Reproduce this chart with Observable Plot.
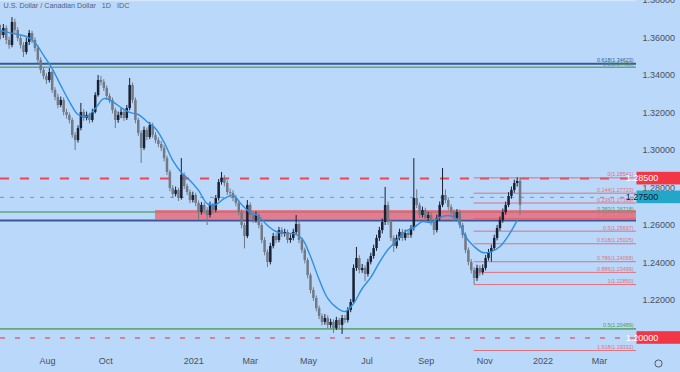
<!DOCTYPE html>
<html><head><meta charset="utf-8">
<script src="https://cdn.jsdelivr.net/npm/d3@7"></script>
<script src="https://cdn.jsdelivr.net/npm/@observablehq/plot@0.6"></script>
<style>html,body{margin:0;padding:0;background:#bad8fa;}</style>
</head><body><div id="chart"></div>
<script>
const title = "U.S. Dollar / Canadian Dollar\u00a0\u00a0\u00a01D\u00a0\u00a0\u00a0IDC";
const firstDate = "2020-06-13";
const stepDays = 3;
const firstOpen = 1.3640;
const closes = [
1.3613,1.3651,1.3587,1.3560,1.3683,1.3640,1.3597,1.3560,1.3523,1.3576,
1.3624,1.3587,1.3544,1.3480,1.3427,1.3395,1.3373,1.3416,1.3320,1.3283,
1.3240,1.3267,1.3203,1.3187,1.3160,1.3080,1.3053,1.3117,1.3203,1.3171,
1.3187,1.3160,1.3203,1.3293,1.3373,1.3363,1.3331,1.3288,1.3267,1.3213,
1.3160,1.3187,1.3203,1.3171,1.3224,1.3347,1.3267,1.3160,1.3091,1.3011,
1.3107,1.3069,1.3133,1.3080,1.3053,1.3032,1.3011,1.2957,1.2883,1.2797,
1.2765,1.2787,1.2744,1.2867,1.2808,1.2776,1.2733,1.2760,1.2717,1.2669,
1.2707,1.2680,1.2653,1.2707,1.2680,1.2744,1.2829,1.2851,1.2824,1.2776,
1.2771,1.2744,1.2717,1.2669,1.2600,1.2541,1.2707,1.2653,1.2627,1.2653,
1.2600,1.2520,1.2456,1.2403,1.2488,1.2541,1.2520,1.2573,1.2552,1.2563,
1.2520,1.2531,1.2563,1.2605,1.2520,1.2467,1.2413,1.2333,1.2253,1.2211,
1.2157,1.2115,1.2083,1.2104,1.2067,1.2083,1.2051,1.2093,1.2067,1.2104,
1.2093,1.2147,1.2189,1.2371,1.2424,1.2360,1.2371,1.2339,1.2403,1.2435,
1.2477,1.2531,1.2573,1.2616,1.2707,1.2616,1.2531,1.2488,1.2531,1.2563,
1.2531,1.2557,1.2547,1.2584,1.2744,1.2707,1.2653,1.2680,1.2637,1.2653,
1.2616,1.2573,1.2637,1.2707,1.2760,1.2733,1.2696,1.2669,1.2637,1.2669,
1.2600,1.2547,1.2467,1.2403,1.2360,1.2317,1.2371,1.2349,1.2371,1.2424,
1.2456,1.2477,1.2531,1.2584,1.2627,1.2669,1.2707,1.2755,1.2787,1.2824,
1.2835,1.2707];
const highs = [
1.3668,1.3672,1.3665,1.3605,1.3709,1.3700,1.3655,1.3612,1.3575,1.3598,
1.3640,1.3635,1.3600,1.3558,1.3495,1.3440,1.3410,1.3437,1.3425,1.3335,
1.3300,1.3285,1.3280,1.3220,1.3200,1.3172,1.3095,1.3132,1.3251,1.3218,
1.3205,1.3198,1.3220,1.3308,1.3400,1.3395,1.3378,1.3345,1.3302,1.3280,
1.3225,1.3205,1.3222,1.3215,1.3240,1.3384,1.3360,1.3280,1.3172,1.3105,
1.3125,1.3120,1.3150,1.3145,1.3095,1.3068,1.3048,1.3025,1.2970,1.2895,
1.2812,1.2805,1.2798,1.2957,1.2880,1.2820,1.2790,1.2778,1.2772,1.2730,
1.2722,1.2720,1.2695,1.2725,1.2718,1.2760,1.2845,1.2883,1.2866,1.2838,
1.2795,1.2785,1.2760,1.2730,1.2683,1.2612,1.2733,1.2720,1.2668,1.2672,
1.2665,1.2612,1.2535,1.2470,1.2505,1.2558,1.2556,1.2590,1.2588,1.2580,
1.2575,1.2550,1.2580,1.2653,1.2618,1.2532,1.2480,1.2425,1.2345,1.2268,
1.2225,1.2170,1.2128,1.2125,1.2118,1.2100,1.2096,1.2110,1.2105,1.2120,
1.2120,1.2162,1.2205,1.2390,1.2483,1.2438,1.2392,1.2385,1.2420,1.2452,
1.2495,1.2548,1.2590,1.2635,1.2803,1.2725,1.2630,1.2545,1.2548,1.2580,
1.2578,1.2575,1.2570,1.2600,1.2957,1.2790,1.2720,1.2698,1.2692,1.2670,
1.2668,1.2630,1.2655,1.2725,1.2904,1.2790,1.2748,1.2710,1.2682,1.2685,
1.2682,1.2612,1.2560,1.2480,1.2418,1.2375,1.2388,1.2385,1.2390,1.2440,
1.2472,1.2495,1.2548,1.2600,1.2645,1.2688,1.2725,1.2775,1.2805,1.2842,
1.2854,1.2850];
const lows = [
1.3590,1.3598,1.3565,1.3540,1.3548,1.3622,1.3580,1.3541,1.3496,1.3510,
1.3560,1.3570,1.3525,1.3462,1.3410,1.3378,1.3352,1.3360,1.3305,1.3265,
1.3222,1.3228,1.3185,1.3168,1.3142,1.3065,1.3000,1.3040,1.3105,1.3155,
1.3158,1.3142,1.3148,1.3195,1.3285,1.3345,1.3315,1.3270,1.3250,1.3195,
1.3117,1.3145,1.3170,1.3155,1.3160,1.3212,1.3250,1.3142,1.3075,1.2931,
1.3000,1.3052,1.3058,1.3065,1.3036,1.3015,1.2994,1.2940,1.2866,1.2780,
1.2745,1.2752,1.2728,1.2735,1.2792,1.2760,1.2716,1.2720,1.2700,1.2627,
1.2655,1.2663,1.2600,1.2640,1.2662,1.2668,1.2730,1.2815,1.2806,1.2760,
1.2752,1.2727,1.2700,1.2652,1.2582,1.2475,1.2530,1.2636,1.2610,1.2612,
1.2582,1.2503,1.2438,1.2376,1.2390,1.2475,1.2503,1.2508,1.2536,1.2538,
1.2503,1.2505,1.2518,1.2550,1.2503,1.2450,1.2395,1.2315,1.2236,1.2195,
1.2140,1.2098,1.2064,1.2068,1.2050,1.2052,1.2024,1.2040,1.2050,1.2019,
1.2076,1.2080,1.2135,1.2180,1.2355,1.2342,1.2345,1.2300,1.2325,1.2390,
1.2420,1.2462,1.2515,1.2555,1.2600,1.2600,1.2515,1.2456,1.2475,1.2518,
1.2515,1.2518,1.2530,1.2532,1.2570,1.2690,1.2636,1.2640,1.2620,1.2622,
1.2598,1.2547,1.2560,1.2625,1.2695,1.2716,1.2680,1.2652,1.2620,1.2625,
1.2582,1.2530,1.2450,1.2385,1.2342,1.2285,1.2302,1.2330,1.2335,1.2358,
1.2410,1.2405,1.2462,1.2518,1.2570,1.2612,1.2655,1.2695,1.2740,1.2772,
1.2805,1.2653];
// moving average, one value every 3 bars
const maStepBars = 3;
const maValues = [
1.3640,1.3629,1.3619,1.3608,1.3576,1.3507,1.3437,1.3347,1.3261,1.3192,
1.3181,1.3224,1.3277,1.3261,1.3229,1.3203,1.3192,1.3155,1.3117,1.3043,
1.2947,1.2883,1.2840,1.2787,1.2717,1.2712,1.2744,1.2760,1.2712,1.2669,
1.2648,1.2600,1.2568,1.2557,1.2557,1.2531,1.2435,1.2312,1.2211,1.2163,
1.2141,1.2184,1.2264,1.2323,1.2403,1.2472,1.2520,1.2568,1.2589,1.2621,
1.2616,1.2643,1.2653,1.2632,1.2541,1.2488,1.2456,1.2461,1.2488,1.2547,1.2627];

const xTickDates = ["2020-08-01","2020-10-01","2021-01-01","2021-03-01","2021-05-01","2021-07-01","2021-09-01","2021-11-01","2022-01-01","2022-03-01"];
const xTickLabels = ["Aug","Oct","2021","Mar","May","Jul","Sep","Nov","2022","Mar"];
const yTicks = [1.22,1.24,1.26,1.28,1.30,1.32,1.34,1.36,1.38];
const xDomainDates = ["2020-06-13T00:00Z","2022-04-08T17:00Z"];
const yDomain = [1.19333, 1.38];

const navyLevels = [1.34623, 1.26267];
const greenLevels = [1.34436, 1.26718, 1.20489];
const levelTexts = ["0.618(1.34623)","0.5(1.34436)","0.382(1.26718)","0.5(1.20489)"];
const levelTextValues = [1.34623, 1.34436, 1.26718, 1.20489];
const levelTextKinds = ["navy","green","green","green"];

const fibStart = "2021-10-21";
const fibLevels = [0,0.144,0.236,0.382,0.5,0.618,0.786,0.886,1,1.618];
const fibValues = [1.28541,1.27723,1.27199,1.26367,1.25697,1.25025,1.24068,1.23499,1.22850,1.19332];

const zoneStart = "2020-11-22";
const zoneLow = 1.2627, zoneHigh = 1.2680;

const redDashLevels = [1.285];
const cyanDashLevels = [1.275];
const lowDashLevels = [1.20];
const tagValues = [1.285, 1.275, 1.20];
const tagKinds = ["red","cyan","red"];

// ---------- build tables ----------
const parse = s => new Date(s.length === 10 ? s + "T00:00Z" : s);
const start = parse(firstDate);
const xDomain = xDomainDates.map(parse);
const candles = closes.map((c, i) => ({
  date: d3.utcDay.offset(start, stepDays * i),
  open: i === 0 ? firstOpen : closes[i - 1],
  close: c, high: highs[i], low: lows[i]
}));
const upC = candles.filter(d => d.close >= d.open);
const downC = candles.filter(d => d.close < d.open);
const ma = maValues.map((v, k) => ({date: d3.utcDay.offset(start, stepDays * maStepBars * k), value: v}));
const fmt5 = d3.format(".5f");
const fibTable = fibValues.map((v, i) => ({value: v, label: `${fibLevels[i]}(${fmt5(v)})`, x1: parse(fibStart), x2: xDomain[1]}));
const levelLabelTable = levelTexts.map((t, i) => ({text: t, value: levelTextValues[i], kind: levelTextKinds[i]}));
const zone = [{x1: parse(zoneStart), x2: xDomain[1], y1: zoneLow, y2: zoneHigh}];
const tickMap = new Map(xTickDates.map((d, i) => [+parse(d), xTickLabels[i]]));

const NAVY = "#3d5796", GREEN = "#62a87c", FIB = "#e0707e";
const UP = "#182033", DOWN = "#727884";

const chart = Plot.plot({
  width: 680, height: 372,
  marginLeft: 0, marginRight: 44, marginTop: 0, marginBottom: 22,
  style: {background: "#bad8fa", fontFamily: "Liberation Sans, Arial, sans-serif", fontSize: "9px", color: "#4a505e"},
  x: {type: "utc", domain: xDomain},
  y: {domain: yDomain},
  marks: [
    Plot.ruleY([1.38], {stroke: "#d4e6fc", strokeWidth: 1.5}),
    Plot.ruleY(navyLevels, {stroke: NAVY, strokeWidth: 2}),
    Plot.ruleY(greenLevels, {stroke: GREEN, strokeWidth: 1.6}),
    Plot.ruleY(redDashLevels, {stroke: "#ea4651", strokeWidth: 2, strokeDasharray: "9,11"}),
    Plot.ruleY(cyanDashLevels, {stroke: "#4aa9d6", strokeWidth: 1, strokeDasharray: "4,6"}),
    Plot.ruleY(lowDashLevels, {stroke: "#d86a7c", strokeWidth: 1.5, strokeDasharray: "5,10"}),
    Plot.ruleY(fibTable, {y: "value", x1: "x1", x2: "x2", stroke: FIB, strokeWidth: 1}),
    Plot.rect(zone, {x1: "x1", x2: "x2", y1: "y1", y2: "y2", fill: "#ef5a6a", fillOpacity: 0.72}),
    Plot.ruleX(downC, {x: "date", y1: "low", y2: "high", stroke: DOWN, strokeWidth: 1}),
    Plot.ruleX(downC, {x: "date", y1: "open", y2: "close", stroke: DOWN, strokeWidth: 2.5}),
    Plot.ruleX(upC, {x: "date", y1: "low", y2: "high", stroke: UP, strokeWidth: 1}),
    Plot.ruleX(upC, {x: "date", y1: "open", y2: "close", stroke: UP, strokeWidth: 2.5}),
    Plot.line(ma, {x: "date", y: "value", stroke: "#2e8fe0", strokeWidth: 1.4, curve: "catmull-rom"}),
    Plot.text(fibTable, {y: "value", text: "label", frameAnchor: "right", textAnchor: "end", lineAnchor: "bottom", dx: -3, dy: -1.5, fontSize: 5.4, fill: FIB}),
    Plot.text(levelLabelTable, {y: "value", text: "text", frameAnchor: "right", textAnchor: "end", lineAnchor: "bottom", dx: -3, dy: -1.5, fontSize: 5.4, fill: d => d.kind === "navy" ? NAVY : "#4c9a68"}),
    Plot.text([title], {text: d => d, frameAnchor: "top-left", textAnchor: "start", lineAnchor: "top", dx: 3, dy: 2.5, fontSize: 7.2, fill: "#56617a"}),
    Plot.axisX(xTickDates.map(parse), {anchor: "bottom", tickSize: 0, tickPadding: 7, tickFormat: d => tickMap.get(+d), fontSize: 9, label: null}),
    Plot.axisY(yTicks, {anchor: "right", tickSize: 0, tickPadding: 6, tickFormat: fmt5, fontSize: 9, label: null}),
    Plot.dot([0], {frameAnchor: "bottom-right", dx: 22, dy: 13, r: 3.6, stroke: "#555b66", strokeWidth: 1, fill: "none"})
  ]
});

// price tags on the right axis, positioned with the plot's own y scale
const ys = chart.scale("y");
const svg = d3.select(chart);
const tagStyles = {red: {fill: "#f23645", text: "#ffffff"}, cyan: {fill: "#22a7c9", text: "#14202e"}};
tagValues.forEach((v, i) => {
  const st = tagStyles[tagKinds[i]];
  const yy = ys.apply(v);
  const g = svg.append("g");
  g.append("rect").attr("x", 636.5).attr("y", yy - 6.3).attr("width", 43.5).attr("height", 12.6).attr("fill", st.fill);
  g.append("text").attr("x", 642).attr("y", yy).attr("dy", "0.35em")
    .attr("font-size", 9).attr("font-family", "Liberation Sans, Arial, sans-serif")
    .attr("fill", st.text).text(fmt5(v));
});

document.getElementById("chart").appendChild(chart);
</script></body></html>
